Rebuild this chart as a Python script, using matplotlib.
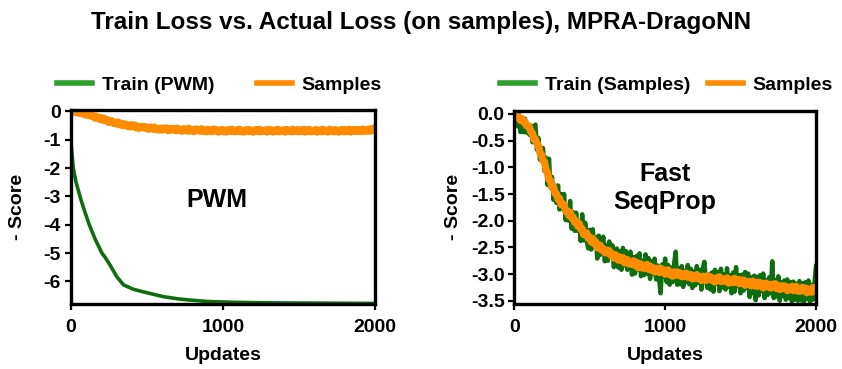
import matplotlib
matplotlib.use("Agg")
import matplotlib.pyplot as plt
from matplotlib.lines import Line2D

plt.rcParams['font.family'] = ['Liberation Sans', 'DejaVu Sans']
plt.rcParams['font.weight'] = 'bold'
plt.rcParams['axes.unicode_minus'] = False

# ---------------- data ----------------
title = "Train Loss vs. Actual Loss (on samples), MPRA-DragoNN"

# left panel: PWM
pwm_train_x = [0, 5, 17, 35, 61, 90, 122, 160, 205, 226, 258, 302, 346, 411, 499,
               608, 707, 762, 894, 1069, 1288, 2000]
pwm_train_y = [-0.90, -1.30, -2.00, -2.50, -3.00, -3.50, -4.00, -4.50, -5.00, -5.15,
               -5.42, -5.83, -6.12, -6.28, -6.40, -6.54, -6.62, -6.65, -6.71, -6.74,
               -6.76, -6.78]

updates = list(range(0, 2001, 10))

pwm_samples = [
    -0.01, 0.00, -0.03, 0.00, -0.05, -0.01, -0.07, -0.03, -0.10, -0.06,
    -0.13, -0.08, -0.14, -0.09, -0.18, -0.15, -0.24, -0.17, -0.23, -0.28,
    -0.22, -0.31, -0.24, -0.33, -0.29, -0.39, -0.33, -0.33, -0.42, -0.39,
    -0.44, -0.37, -0.47, -0.42, -0.50, -0.44, -0.44, -0.52, -0.48, -0.55,
    -0.47, -0.54, -0.48, -0.58, -0.52, -0.60, -0.53, -0.57, -0.53, -0.60,
    -0.55, -0.63, -0.57, -0.55, -0.63, -0.55, -0.64, -0.60, -0.66, -0.59,
    -0.66, -0.59, -0.64, -0.58, -0.68, -0.61, -0.66, -0.60, -0.65, -0.68,
    -0.59, -0.67, -0.63, -0.70, -0.61, -0.67, -0.62, -0.70, -0.60, -0.69,
    -0.64, -0.71, -0.62, -0.68, -0.63, -0.70, -0.61, -0.70, -0.66, -0.72,
    -0.63, -0.70, -0.65, -0.71, -0.62, -0.69, -0.65, -0.73, -0.67, -0.64,
    -0.72, -0.65, -0.73, -0.66, -0.64, -0.71, -0.63, -0.70, -0.72, -0.65,
    -0.71, -0.63, -0.72, -0.67, -0.73, -0.65, -0.70, -0.64, -0.71, -0.66,
    -0.73, -0.66, -0.64, -0.71, -0.63, -0.72, -0.67, -0.70, -0.65, -0.73,
    -0.64, -0.70, -0.65, -0.73, -0.66, -0.71, -0.63, -0.72, -0.67, -0.70,
    -0.65, -0.73, -0.64, -0.70, -0.66, -0.72, -0.63, -0.71, -0.69, -0.64,
    -0.72, -0.66, -0.71, -0.63, -0.73, -0.65, -0.70, -0.64, -0.72, -0.67,
    -0.71, -0.64, -0.73, -0.66, -0.65, -0.72, -0.63, -0.70, -0.67, -0.73,
    -0.63, -0.71, -0.66, -0.72, -0.64, -0.70, -0.73, -0.65, -0.71, -0.64,
    -0.72, -0.65, -0.70, -0.63, -0.73, -0.66, -0.64, -0.71, -0.64, -0.71,
    -0.64, -0.71, -0.62, -0.70, -0.65, -0.70, -0.62, -0.70, -0.61, -0.67,
    -0.60,
]

# right panel: Fast SeqProp
seq_train = [
    -0.12, 0.01, -0.23, -0.01, -0.34, -0.06, -0.34, -0.09, -0.35, -0.21,
    -0.39, -0.22, -0.53, -0.24, -0.20, -0.67, -0.45, -0.86, -0.70, -0.64,
    -1.07, -0.82, -1.33, -0.84, -1.38, -1.18, -1.61, -1.34, -1.67, -1.34,
    -1.79, -1.50, -1.78, -1.50, -1.99, -1.73, -2.00, -1.63, -2.15, -1.84,
    -2.19, -1.85, -2.19, -2.02, -2.38, -1.88, -2.37, -2.04, -2.37, -2.52,
    -2.17, -2.54, -2.16, -2.49, -2.31, -2.71, -2.28, -2.64, -2.46, -2.30,
    -2.76, -2.46, -2.75, -2.39, -2.68, -2.46, -2.87, -2.57, -2.52, -2.88,
    -2.57, -2.92, -2.51, -2.84, -2.57, -2.92, -2.71, -2.58, -3.01, -2.68,
    -2.99, -2.66, -2.91, -2.61, -3.04, -2.75, -3.02, -2.63, -2.99, -2.70,
    -3.09, -2.76, -3.00, -2.71, -3.10, -2.84, -3.09, -3.36, -2.82, -3.05,
    -2.71, -3.15, -2.83, -3.20, -2.88, -3.15, -2.79, -2.58, -3.20, -2.89,
    -3.19, -2.85, -3.24, -2.94, -3.15, -2.83, -3.19, -2.90, -3.26, -2.95,
    -3.21, -2.85, -3.16, -2.92, -3.29, -2.89, -2.77, -3.10, -3.26, -3.01,
    -3.29, -2.97, -3.33, -2.92, -3.18, -2.96, -3.32, -2.90, -3.25, -3.01,
    -3.29, -2.89, -3.24, -3.02, -3.36, -2.97, -3.33, -2.87, -3.23, -3.02,
    -3.36, -3.01, -3.31, -2.96, -3.26, -2.99, -3.43, -3.06, -3.36, -3.03,
    -3.49, -3.05, -3.40, -3.02, -3.32, -2.99, -3.45, -3.11, -3.39, -3.06,
    -3.36, -2.76, -3.45, -3.11, -3.42, -3.04, -3.50, -3.15, -3.41, -3.12,
    -3.48, -3.10, -3.45, -3.15, -3.51, -3.14, -3.48, -3.18, -3.50, -3.13,
    -3.49, -3.17, -3.53, -3.15, -3.46, -3.12, -3.52, -3.20, -3.48, -3.16,
    -2.85,
]

seq_samples = [
    -0.02, -0.01, -0.07, -0.06, -0.12, -0.09, -0.15, -0.14, -0.22, -0.22,
    -0.24, -0.34, -0.36, -0.48, -0.47, -0.56, -0.59, -0.73, -0.76, -0.88,
    -0.89, -1.05, -1.09, -1.23, -1.25, -1.38, -1.36, -1.49, -1.50, -1.60,
    -1.58, -1.70, -1.68, -1.70, -1.82, -1.82, -1.90, -1.84, -1.95, -1.93,
    -2.03, -2.01, -2.10, -2.05, -2.16, -2.15, -2.26, -2.23, -2.23, -2.33,
    -2.31, -2.40, -2.33, -2.43, -2.40, -2.51, -2.46, -2.46, -2.55, -2.53,
    -2.60, -2.55, -2.61, -2.56, -2.65, -2.62, -2.70, -2.64, -2.67, -2.74,
    -2.68, -2.74, -2.69, -2.79, -2.73, -2.73, -2.81, -2.77, -2.82, -2.75,
    -2.84, -2.78, -2.88, -2.81, -2.81, -2.89, -2.85, -2.89, -2.82, -2.91,
    -2.85, -2.93, -2.88, -2.96, -2.89, -2.91, -2.97, -2.89, -2.96, -2.92,
    -3.00, -2.95, -2.92, -3.01, -2.97, -3.04, -2.96, -3.02, -2.96, -3.02,
    -2.98, -3.05, -3.00, -3.04, -2.98, -3.06, -3.02, -3.01, -3.09, -3.03,
    -3.08, -3.01, -3.08, -3.05, -3.12, -3.04, -3.05, -3.12, -3.03, -3.10,
    -3.05, -3.12, -3.08, -3.15, -3.07, -3.11, -3.05, -3.14, -3.09, -3.13,
    -3.13, -3.07, -3.17, -3.10, -3.11, -3.16, -3.08, -3.15, -3.10, -3.18,
    -3.11, -3.17, -3.11, -3.21, -3.14, -3.18, -3.14, -3.22, -3.13, -3.22,
    -3.17, -3.23, -3.15, -3.22, -3.17, -3.26, -3.20, -3.17, -3.24, -3.20,
    -3.26, -3.19, -3.24, -3.18, -3.27, -3.22, -3.29, -3.22, -3.27, -3.22,
    -3.23, -3.31, -3.25, -3.29, -3.23, -3.31, -3.27, -3.23, -3.32, -3.27,
    -3.32, -3.25, -3.31, -3.26, -3.35, -3.28, -3.29, -3.34, -3.25, -3.33,
    -3.27,
]

left_yticks = [0, -1, -2, -3, -4, -5, -6]
right_yticks = [0.0, -0.5, -1.0, -1.5, -2.0, -2.5, -3.0, -3.5]
xticks = [0, 1000, 2000]

# ---------------- style ----------------
W, H = 842, 369
GREEN_LINE = '#0e6e0e'
GREEN_LEG = '#2ca02c'
ORANGE = '#ff8c00'
FS = 14

fig = plt.figure(figsize=(W / 100, H / 100), dpi=100)

def fx(px):
    return px / W

def fy(py):
    return 1 - py / H

axL = fig.add_axes([fx(70.7), fy(304), fx(375 - 70.7), (304 - 110) / H])
axR = fig.add_axes([fx(514.3), fy(304), fx(816 - 514.3), (304 - 110.7) / H])

axL.plot(pwm_train_x, pwm_train_y, color=GREEN_LINE, lw=2.6, solid_joinstyle='round')
axL.plot(updates, pwm_samples, color=ORANGE, lw=5.2)
axL.set_xlim(0, 2000)
axL.set_ylim(-6.8, 0.05)
axL.set_yticks(left_yticks)
axL.set_yticklabels([str(v) for v in left_yticks])

axR.plot(updates, seq_train, color=GREEN_LINE, lw=3.2)
axR.plot(updates, seq_samples, color=ORANGE, lw=5.2)
axR.set_xlim(0, 2000)
axR.set_ylim(-3.56, 0.06)
axR.set_yticks(right_yticks)
axR.set_yticklabels([f"{v:.1f}" for v in right_yticks])

for ax in (axL, axR):
    ax.set_xticks(xticks)
    ax.set_xticklabels([str(v) for v in xticks])
    for s in ax.spines.values():
        s.set_linewidth(2.4)
        s.set_color('black')
    ax.tick_params(axis='both', direction='out', length=4, width=1.6,
                   labelsize=FS, pad=3)
    ax.tick_params(axis='x', pad=7)
    for lab in ax.get_xticklabels() + ax.get_yticklabels():
        lab.set_fontweight('bold')

axL.text(0.481, 0.536, "PWM", transform=axL.transAxes, ha='center', va='center',
         fontsize=18, fontweight='bold')
axR.text(0.5, 0.6, "Fast\nSeqProp", transform=axR.transAxes, ha='center', va='center',
         fontsize=18, fontweight='bold', linespacing=1.2)

fig.text(0.5, fy(23), title, ha='center', va='center', fontsize=17.5, fontweight='bold')

for xc, yc in ((18, 207), (453, 207)):
    fig.text(fx(xc), fy(yc), "- Score", rotation=90, ha='center', va='center',
             fontsize=FS, fontweight='bold')
for xc in (223, 665):
    fig.text(fx(xc), fy(355), "Updates", ha='center', va='center',
             fontsize=FS, fontweight='bold')

def make_legend(labels, colors, x0, spacing):
    handles = [Line2D([], [], color=c, lw=4) for c in colors]
    leg = fig.legend(handles, labels, loc='center left', ncol=2, frameon=False,
                     bbox_to_anchor=(fx(x0), fy(85)), bbox_transform=fig.transFigure,
                     borderaxespad=0, borderpad=0, handlelength=1.8,
                     handletextpad=0.5, columnspacing=spacing,
                     prop={'size': FS, 'weight': 'bold'})
    return leg

make_legend(["Train (PWM)", "Samples"], [GREEN_LEG, ORANGE], 57, 2.2)
make_legend(["Train (Samples)", "Samples"], [GREEN_LEG, ORANGE], 500, 0.9)

fig.savefig("out.png", dpi=100)
